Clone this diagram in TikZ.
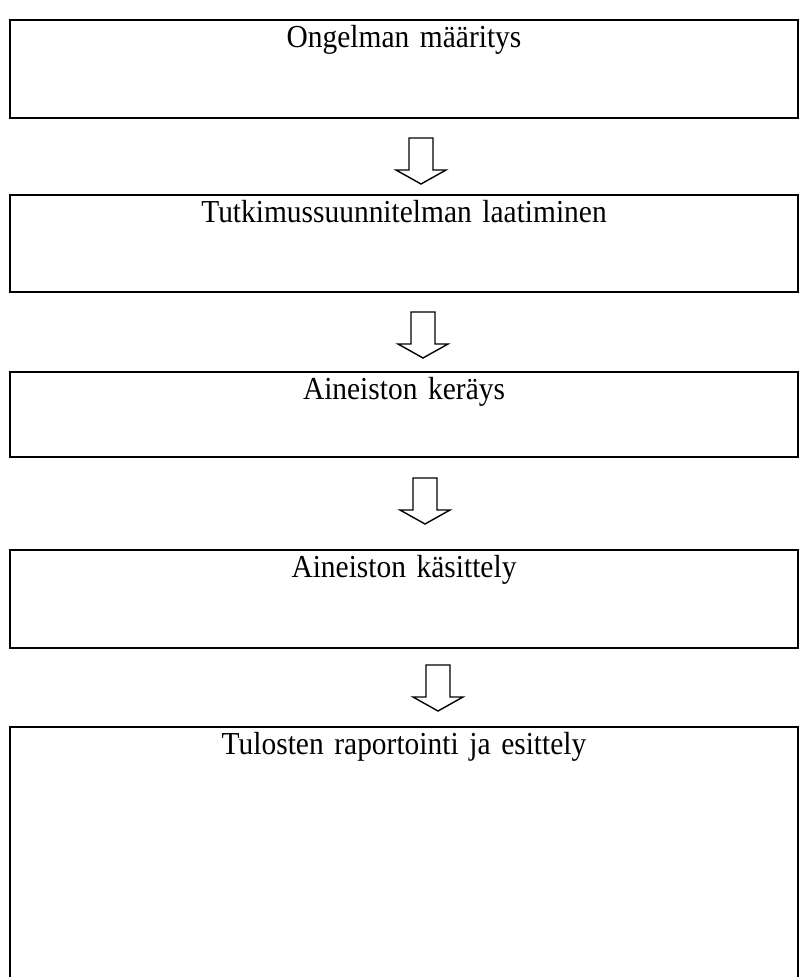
\documentclass[tikz,border=0pt]{standalone}
\usepackage{fontspec}
\setmainfont{Liberation Serif}[FakeStretch=0.92]
\usetikzlibrary{positioning, calc}

\tikzset{
  stepbox/.style={draw, line width=2.2pt, inner sep=0pt, outer sep=0pt, text width=788pt, align=center,
    text height=27pt, text depth=71pt, font=\fontsize{32}{38}\selectfont},
  downarrow/.pic={
    \draw[line width=1.4pt, line join=miter]
      (-12,0) -- (-12,-32) -- (-25,-32) -- (0,-46) -- (25,-32) -- (12,-32) -- (12,0) -- cycle;
  }
}

\begin{document}
\begin{tikzpicture}[x=1pt, y=1pt]
\useasboundingbox (0,0) rectangle (810,-977);

\node[stepbox, anchor=north west] (b1) at (10,-20) {Ongelman määritys};
\node[stepbox, below=77pt of b1, text depth=70pt] (b2) {Tutkimussuunnitelman laatiminen};
\node[stepbox, below=80pt of b2, text depth=58pt] (b3) {Aineiston keräys};
\node[stepbox, below=93pt of b3] (b4) {Aineiston käsittely};
\node[stepbox, below=79pt of b4, text depth=274pt] (b5) {Tulosten raportointi ja esittely};

% arrows between the steps
\pic at ($(b1.south)+(17,-20)$) {downarrow};
\pic at ($(b2.south)+(19,-20)$) {downarrow};
\pic at ($(b3.south)+(21,-21)$) {downarrow};
\pic at ($(b4.south)+(34,-17)$) {downarrow};
\end{tikzpicture}
\end{document}
